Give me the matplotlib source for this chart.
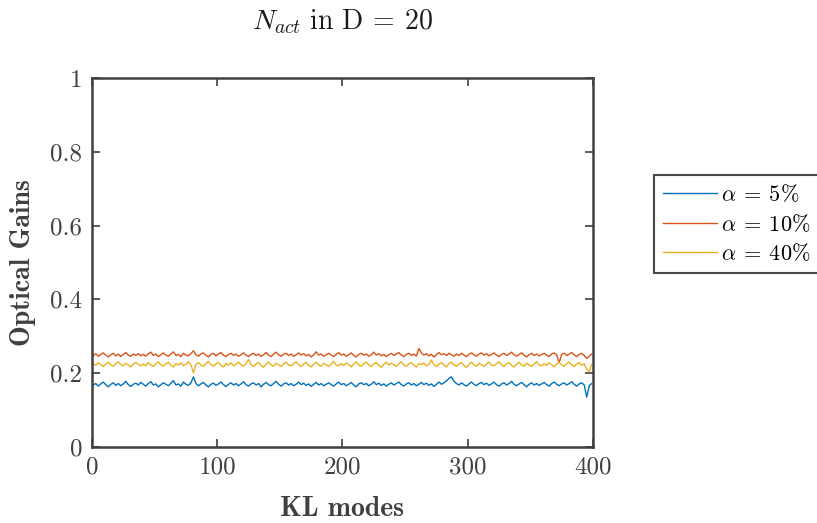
"""
Optical gains per KL mode for three alpha values (MATLAB style figure)
"""
import numpy as np
import matplotlib
matplotlib.use("Agg")
import matplotlib.pyplot as plt

# 데이터: 2 모드 간격으로 읽은 값 (모드 1, 3, ..., 399)
modes = np.arange(1, 400, 2)

gain_5 = [
    0.168, 0.172, 0.165, 0.171, 0.176, 0.169, 0.163, 0.170, 0.174, 0.167, 0.172, 0.166, 0.171, 0.178, 0.169, 0.164, 0.170, 0.173, 0.168, 0.175,
    0.170, 0.165, 0.172, 0.177, 0.168, 0.171, 0.163, 0.169, 0.174, 0.170, 0.166, 0.173, 0.180, 0.168, 0.171, 0.165, 0.176, 0.170, 0.167, 0.174,
    0.190, 0.172, 0.166, 0.171, 0.175, 0.168, 0.163, 0.170, 0.173, 0.167, 0.171, 0.176, 0.169, 0.164, 0.170, 0.174, 0.168, 0.172, 0.166, 0.171,
    0.177, 0.169, 0.165, 0.171, 0.174, 0.168, 0.172, 0.163, 0.170, 0.175, 0.169, 0.166, 0.172, 0.178, 0.170, 0.165, 0.171, 0.174, 0.168, 0.172,
    0.166, 0.170, 0.176, 0.169, 0.173, 0.167, 0.171, 0.164, 0.170, 0.175, 0.168, 0.172, 0.166, 0.170, 0.174, 0.169, 0.165, 0.171, 0.176, 0.169,
    0.172, 0.166, 0.170, 0.175, 0.168, 0.163, 0.171, 0.174, 0.169, 0.172, 0.166, 0.170, 0.177, 0.169, 0.173, 0.167, 0.171, 0.165, 0.170, 0.174,
    0.168, 0.172, 0.176, 0.169, 0.165, 0.171, 0.174, 0.168, 0.172, 0.166, 0.170, 0.175, 0.169, 0.173, 0.167, 0.171, 0.164, 0.170, 0.176, 0.170,
    0.174, 0.179, 0.186, 0.190, 0.178, 0.172, 0.168, 0.174, 0.169, 0.165, 0.171, 0.176, 0.170, 0.166, 0.172, 0.175, 0.169, 0.173, 0.167, 0.171,
    0.176, 0.169, 0.165, 0.171, 0.174, 0.168, 0.172, 0.178, 0.170, 0.166, 0.171, 0.175, 0.169, 0.163, 0.170, 0.174, 0.168, 0.172, 0.167, 0.171,
    0.175, 0.169, 0.165, 0.172, 0.176, 0.170, 0.166, 0.171, 0.174, 0.168, 0.172, 0.177, 0.170, 0.165, 0.171, 0.174, 0.168, 0.135, 0.166, 0.172,
]

gain_10 = [
    0.248, 0.253, 0.246, 0.251, 0.255, 0.249, 0.244, 0.250, 0.254, 0.247, 0.252, 0.245, 0.251, 0.256, 0.249, 0.246, 0.252, 0.248, 0.253, 0.247,
    0.251, 0.246, 0.253, 0.257, 0.248, 0.252, 0.245, 0.250, 0.255, 0.249, 0.246, 0.252, 0.258, 0.248, 0.251, 0.245, 0.254, 0.249, 0.247, 0.253,
    0.261, 0.250, 0.246, 0.252, 0.255, 0.248, 0.244, 0.251, 0.254, 0.247, 0.252, 0.256, 0.249, 0.245, 0.251, 0.254, 0.248, 0.252, 0.246, 0.250,
    0.255, 0.249, 0.245, 0.251, 0.254, 0.248, 0.252, 0.246, 0.250, 0.256, 0.249, 0.245, 0.252, 0.257, 0.250, 0.246, 0.251, 0.254, 0.248, 0.252,
    0.246, 0.250, 0.255, 0.249, 0.253, 0.247, 0.251, 0.244, 0.250, 0.258, 0.249, 0.252, 0.246, 0.250, 0.254, 0.249, 0.245, 0.251, 0.256, 0.249,
    0.252, 0.246, 0.250, 0.255, 0.248, 0.244, 0.251, 0.254, 0.249, 0.252, 0.246, 0.250, 0.257, 0.249, 0.253, 0.247, 0.251, 0.245, 0.250, 0.254,
    0.248, 0.252, 0.256, 0.249, 0.245, 0.251, 0.254, 0.248, 0.252, 0.246, 0.267, 0.255, 0.249, 0.253, 0.247, 0.251, 0.244, 0.250, 0.256, 0.250,
    0.253, 0.248, 0.254, 0.250, 0.246, 0.252, 0.248, 0.254, 0.249, 0.245, 0.251, 0.255, 0.250, 0.246, 0.252, 0.255, 0.249, 0.253, 0.247, 0.251,
    0.255, 0.249, 0.245, 0.251, 0.254, 0.248, 0.252, 0.257, 0.250, 0.246, 0.251, 0.255, 0.249, 0.244, 0.250, 0.254, 0.248, 0.252, 0.247, 0.251,
    0.254, 0.249, 0.245, 0.252, 0.255, 0.250, 0.228, 0.251, 0.254, 0.248, 0.252, 0.256, 0.250, 0.245, 0.251, 0.254, 0.248, 0.240, 0.246, 0.252,
]

gain_40 = [
    0.226, 0.221, 0.229, 0.223, 0.218, 0.225, 0.230, 0.222, 0.219, 0.226, 0.231, 0.224, 0.220, 0.227, 0.222, 0.217, 0.225, 0.229, 0.223, 0.220,
    0.225, 0.220, 0.229, 0.222, 0.218, 0.226, 0.231, 0.223, 0.219, 0.225, 0.230, 0.221, 0.217, 0.226, 0.222, 0.228, 0.220, 0.224, 0.231, 0.223,
    0.201, 0.224, 0.229, 0.222, 0.218, 0.226, 0.232, 0.223, 0.219, 0.225, 0.229, 0.221, 0.217, 0.226, 0.222, 0.228, 0.220, 0.224, 0.230, 0.223,
    0.219, 0.226, 0.237, 0.223, 0.218, 0.225, 0.229, 0.221, 0.216, 0.224, 0.230, 0.222, 0.219, 0.227, 0.223, 0.218, 0.225, 0.230, 0.222, 0.220,
    0.226, 0.231, 0.223, 0.218, 0.225, 0.229, 0.221, 0.217, 0.224, 0.230, 0.222, 0.219, 0.227, 0.223, 0.218, 0.225, 0.232, 0.222, 0.220, 0.226,
    0.221, 0.228, 0.223, 0.217, 0.225, 0.231, 0.222, 0.219, 0.226, 0.230, 0.223, 0.218, 0.225, 0.229, 0.221, 0.216, 0.224, 0.230, 0.222, 0.227,
    0.223, 0.218, 0.226, 0.231, 0.222, 0.219, 0.225, 0.229, 0.221, 0.217, 0.226, 0.223, 0.228, 0.220, 0.224, 0.236, 0.223, 0.218, 0.225, 0.229,
    0.222, 0.217, 0.226, 0.230, 0.223, 0.219, 0.225, 0.229, 0.221, 0.216, 0.224, 0.230, 0.222, 0.219, 0.227, 0.223, 0.218, 0.225, 0.230, 0.222,
    0.220, 0.226, 0.231, 0.223, 0.218, 0.225, 0.229, 0.221, 0.217, 0.224, 0.230, 0.222, 0.219, 0.227, 0.223, 0.218, 0.225, 0.231, 0.222, 0.220,
    0.226, 0.221, 0.228, 0.223, 0.217, 0.225, 0.230, 0.222, 0.219, 0.226, 0.230, 0.223, 0.218, 0.225, 0.229, 0.221, 0.226, 0.210, 0.204, 0.224,
]

series_labels = [r"$\alpha\:=\:5\%$", r"$\alpha\:=\:10\%$", r"$\alpha\:=\:40\%$"]
series_colors = ["#0072BD", "#D95319", "#EDB120"]

x_ticks = [0, 100, 200, 300, 400]
y_ticks = [0, 0.2, 0.4, 0.6, 0.8, 1]

plt.rcParams["font.family"] = "cmr10"
plt.rcParams["mathtext.fontset"] = "cm"
plt.rcParams["axes.unicode_minus"] = False

text_gray = "#404040"

fig = plt.figure(figsize=(8.17, 5.23), dpi=100)
ax = fig.add_axes([0.1126, 0.1453, 0.6132, 0.7056])

for vals, lab, col in zip([gain_5, gain_10, gain_40], series_labels, series_colors):
    ax.plot(modes, vals, color=col, linewidth=1.0, label=lab)

ax.set_xlim(0, 400)
ax.set_ylim(0, 1)
ax.set_xticks(x_ticks)
ax.set_yticks(y_ticks)
ax.set_yticklabels(["0", "0.2", "0.4", "0.6", "0.8", "1"])

ax.tick_params(direction="in", top=True, right=True, length=6, width=1.2,
               labelsize=18, colors=text_gray, pad=7)
for s in ax.spines.values():
    s.set_linewidth(1.8)
    s.set_color(text_gray)

ax.set_xlabel("KL modes", family="cmb10", fontsize=20, color=text_gray, labelpad=12)
ax.set_ylabel("Optical Gains", family="cmb10", fontsize=20, color=text_gray, labelpad=10)
fig.text(0.4192, 0.958, r"$N_{act}\ \mathrm{in\ D}\:=\:20$", ha="center", va="center",
         fontsize=20, color="#1a1a1a")

leg = fig.legend(loc="center left", bbox_to_anchor=(0.801, 0.572), fontsize=16,
                 frameon=True, fancybox=False, handlelength=2.4, handletextpad=0.2,
                 borderpad=0.4, labelspacing=0.35, borderaxespad=0)
leg.get_frame().set_edgecolor("#1a1a1a")
leg.get_frame().set_linewidth(1.5)

fig.savefig("out.png", dpi=100)
plt.close(fig)
